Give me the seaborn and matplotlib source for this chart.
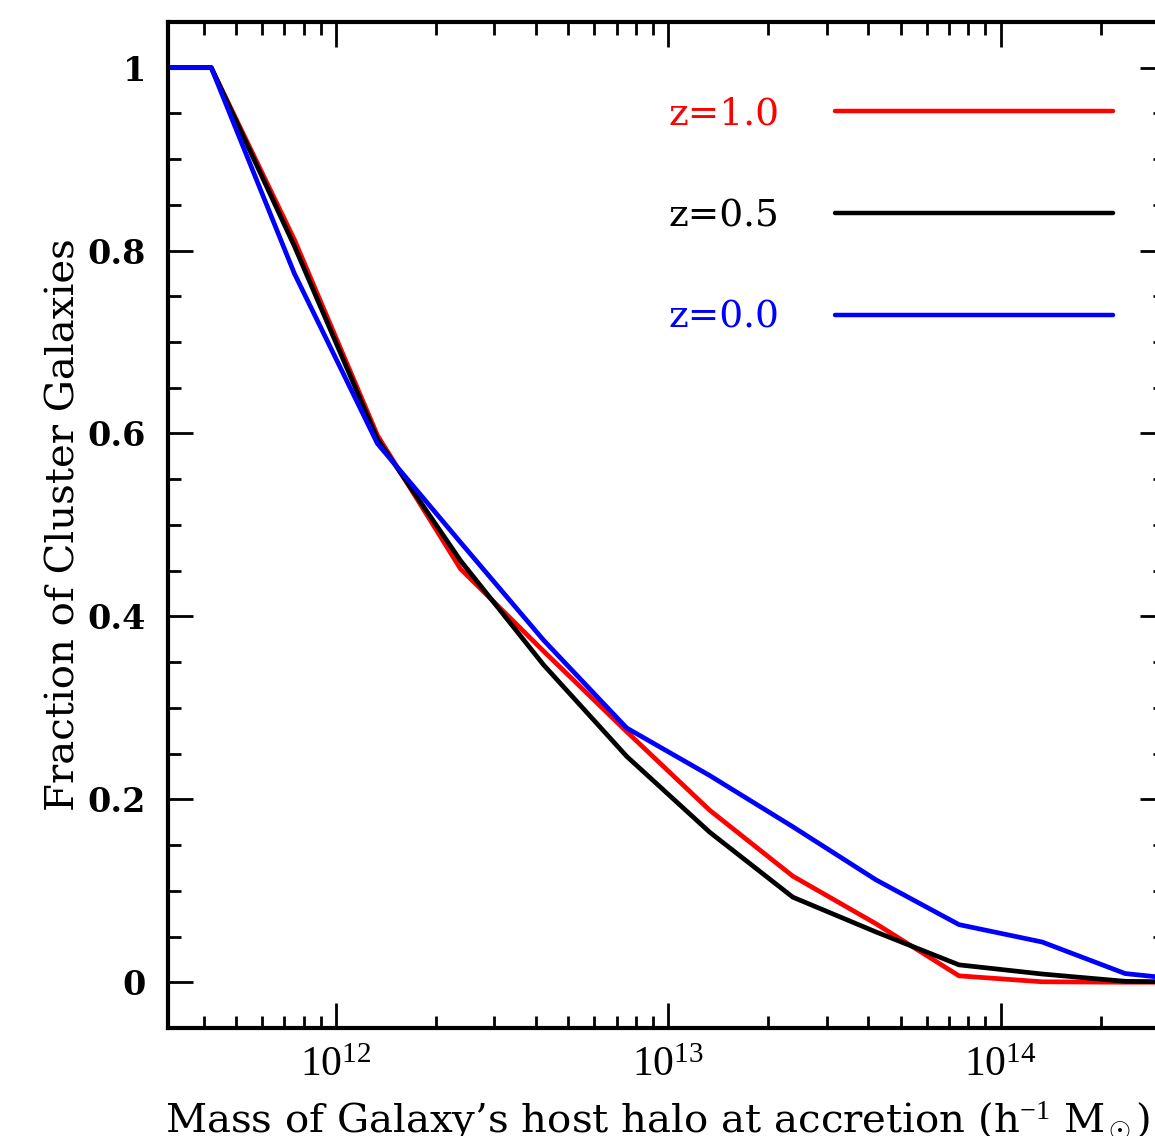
import numpy as np
import pandas as pd
import matplotlib
matplotlib.use('Agg')
import matplotlib.pyplot as plt
import matplotlib.ticker as mticker
import seaborn as sns

# bin centres in log10(M / h^-1 Msun)
log_mass = [11.375, 11.625, 11.875, 12.125, 12.375, 12.625, 12.875,
            13.125, 13.375, 13.625, 13.875, 14.125, 14.375, 14.625]

# fraction of cluster galaxies accreted from haloes of this mass
frac_z10 = [1.0, 1.0, 0.812, 0.598, 0.452, 0.362, 0.274,
            0.188, 0.116, 0.064, 0.007, 0.0005, 0.0, 0.0]
frac_z05 = [1.0, 1.0, 0.805, 0.594, 0.461, 0.347, 0.247,
            0.164, 0.093, 0.055, 0.019, 0.009, 0.001, 0.0]
frac_z00 = [1.0, 1.0, 0.775, 0.589, 0.481, 0.374, 0.278,
            0.226, 0.170, 0.112, 0.063, 0.044, 0.0095, 0.0]

labels = ['z=1.0', 'z=0.5', 'z=0.0']
colors = ['#ff0000', '#000000', '#0000ff']
ytick_vals = [0, 0.2, 0.4, 0.6, 0.8, 1.0]
ytick_labels = ['0', '0.2', '0.4', '0.6', '0.8', '1']

rows = []
for lab, vals in zip(labels, [frac_z10, frac_z05, frac_z00]):
    for lm, f in zip(log_mass, vals):
        rows.append({'mass': 10 ** lm, 'frac': f, 'z': lab})
df = pd.DataFrame(rows)

sns.set_style('ticks')
plt.rcParams['text.color'] = 'black'
plt.rcParams['axes.labelcolor'] = 'black'
plt.rcParams['xtick.color'] = 'black'
plt.rcParams['ytick.color'] = 'black'
plt.rcParams['mathtext.fontset'] = 'custom'
plt.rcParams['mathtext.rm'] = 'Liberation Serif'
plt.rcParams['mathtext.it'] = 'Liberation Serif:italic'
plt.rcParams['mathtext.bf'] = 'Liberation Serif:bold'

fig = plt.figure(figsize=(11.55, 11.36), dpi=100)
ax = fig.add_axes([0.1455, 0.0951, 0.8632, 0.8856])
ax.set_xscale('log')

sns.lineplot(data=df, x='mass', y='frac', hue='z', hue_order=labels,
             palette=dict(zip(labels, colors)), linewidth=3.4,
             estimator=None, sort=False, ax=ax)

ax.set_xlim(10 ** 11.495, 10 ** 14.495)
ax.set_ylim(-0.05, 1.05)

# ticks
ax.xaxis.set_major_locator(mticker.LogLocator(base=10, numticks=10))
ax.xaxis.set_minor_locator(mticker.LogLocator(base=10, subs=np.arange(2, 10), numticks=20))
ax.xaxis.set_minor_formatter(mticker.NullFormatter())
ax.set_yticks(ytick_vals)
ax.set_yticklabels(ytick_labels)
ax.yaxis.set_minor_locator(mticker.MultipleLocator(0.05))

ax.tick_params(which='both', direction='in', top=True, right=True, width=2,
               color='black', labelcolor='black')
ax.tick_params(which='major', length=18)
ax.tick_params(which='minor', length=9)
ax.tick_params(axis='y', pad=16)
ax.tick_params(axis='x', pad=13)

for t in ax.get_yticklabels():
    t.set_fontfamily('DejaVu Serif')
    t.set_fontweight('bold')
    t.set_fontsize(24)
for t in ax.get_xticklabels():
    t.set_fontfamily('Liberation Serif')
    t.set_fontsize(30)

for s in ax.spines.values():
    s.set_linewidth(3)
    s.set_color('black')

# axis labels
ax.set_ylabel('Fraction of Cluster Galaxies', fontsize=29, family='DejaVu Serif')
ax.yaxis.set_label_coords(-0.0863, 0.5)
ax.set_xlabel('Mass of Galaxy\u2019s host halo at accretion (h$^{-1}$ M$_\\odot$)',
              fontsize=29, family='DejaVu Serif', ha='left')
ax.xaxis.set_label_coords(-0.003, -0.0716)

# legend: text first, line after
old = ax.get_legend()
handles = list(old.legend_handles)
for h in handles:
    h.set_linewidth(3.2)
leg = ax.legend(handles, labels, loc='center left', bbox_to_anchor=(0.5015, 0.807),
                frameon=False, markerfirst=False, handlelength=7.4, handletextpad=1.5,
                labelspacing=1.75, borderpad=0, borderaxespad=0,
                prop={'family': 'DejaVu Serif', 'size': 27})
for t, c in zip(leg.get_texts(), colors):
    t.set_color(c)

fig.savefig('out.png', dpi=100)
